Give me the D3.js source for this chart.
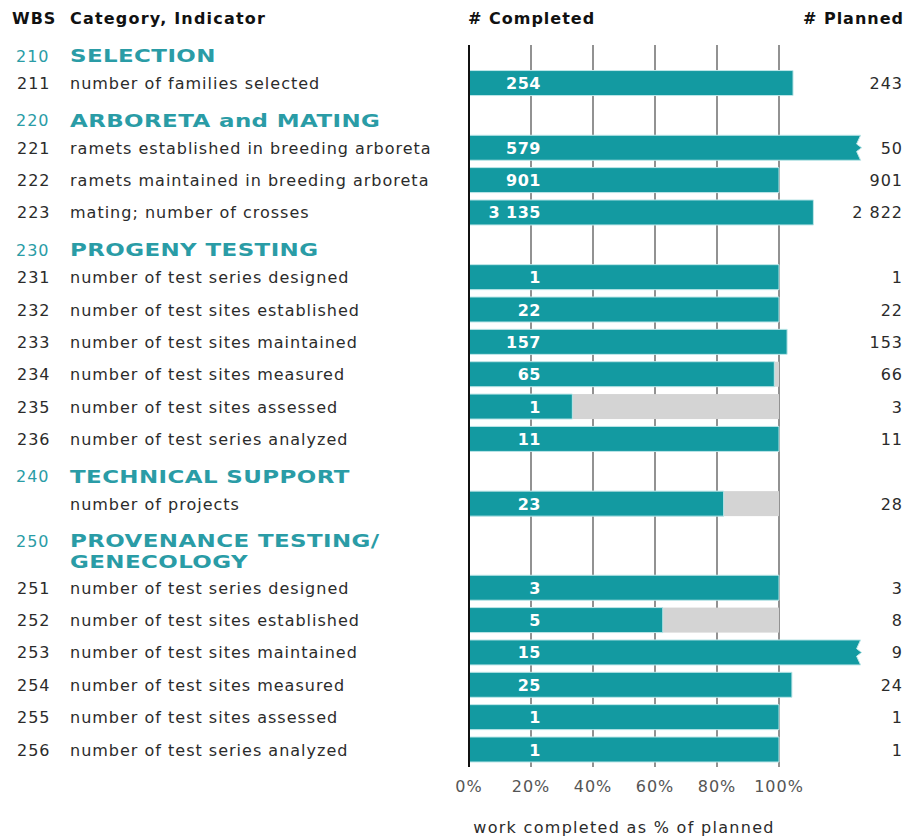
<!DOCTYPE html>
<html>
<head>
<meta charset="utf-8">
<title>Work completed as % of planned</title>
<script src="https://d3js.org/d3.v7.min.js"></script>
<style>
  body { margin: 0; background: #fff; }
  text { font-family: "DejaVu Sans", Verdana, sans-serif; }
</style>
</head>
<body>
<div id="chart"></div>
<script>
// rows of the table, top to bottom
const wbs = ["210", "211", "220", "221", "222", "223", "230", "231", "232", "233", "234", "235", "236",
             "240", "", "250", "251", "252", "253", "254", "255", "256"];
const labels = ["SELECTION", "number of families selected",
                "ARBORETA and MATING", "ramets established in breeding arboreta",
                "ramets maintained in breeding arboreta", "mating; number of crosses",
                "PROGENY TESTING", "number of test series designed", "number of test sites established",
                "number of test sites maintained", "number of test sites measured",
                "number of test sites assessed", "number of test series analyzed",
                "TECHNICAL SUPPORT", "number of projects",
                "PROVENANCE TESTING/|GENECOLOGY", "number of test series designed",
                "number of test sites established", "number of test sites maintained",
                "number of test sites measured", "number of test sites assessed",
                "number of test series analyzed"];
const completed = [null, 254, null, 579, 901, 3135, null, 1, 22, 157, 65, 1, 11,
                   null, 23, null, 3, 5, 15, 25, 1, 1];
const planned   = [null, 243, null, 50, 901, 2822, null, 1, 22, 153, 66, 3, 11,
                   null, 28, null, 3, 8, 9, 24, 1, 1];
const ticks = [0, 0.2, 0.4, 0.6, 0.8, 1.0];
const tickLabels = ["0%", "20%", "40%", "60%", "80%", "100%"];

const W = 907, H = 838;
const teal = "#139aa1", headTeal = "#2a9ca6", grey = "#d4d4d4", textCol = "#2b2b2b";
const cap = 1.26;   // bars above this share are cut with a jagged end

// slot index of each row (the two-line header takes more room)
const slot = [];
let s = 0;
labels.forEach(function(l, i) {
    slot.push(s);
    s += l.indexOf("|") >= 0 ? 1.6 : 1;
});

const y = d3.scaleLinear().domain([0, 21.6]).range([50.7, 749.5]);
const x = d3.scaleLinear().domain([0, 1]).range([469, 779]);
const barH = 25;

const svg = d3.select("#chart").append("svg")
    .attr("width", W).attr("height", H);

// column titles
const head = svg.append("g").attr("font-weight", "bold").attr("font-size", "16px")
    .attr("letter-spacing", "1.2px").attr("fill", "#111");
head.append("text").attr("x", 12).attr("y", 24).attr("letter-spacing", "1px").text("WBS");
head.append("text").attr("x", 70).attr("y", 24).text("Category, Indicator");
head.append("text").attr("x", x(0) - 1).attr("y", 24).attr("letter-spacing", "1px").text("# Completed");
head.append("text").attr("x", 904).attr("y", 24).attr("text-anchor", "end").attr("letter-spacing", "1px").text("# Planned");

// grid
const gridTop = 45, gridBottom = 767;
svg.append("g").selectAll("line")
    .data(ticks.slice(1))
    .join("line")
    .attr("x1", d => x(d)).attr("x2", d => x(d))
    .attr("y1", gridTop).attr("y2", gridBottom)
    .attr("stroke", "#6e6e6e").attr("stroke-width", 1.5);

const rows = d3.range(labels.length);
const items = rows.filter(i => completed[i] !== null);
const headers = rows.filter(i => completed[i] === null);

// grey background up to 100% for incomplete work
svg.append("g").selectAll("rect")
    .data(items.filter(i => completed[i] < planned[i]))
    .join("rect")
    .attr("x", x(0)).attr("y", i => y(slot[i]) - barH / 2)
    .attr("width", x(1) - x(0)).attr("height", barH)
    .attr("fill", grey);

// completed bars
function barPath(i) {
    const r = completed[i] / planned[i];
    const x0 = x(0), t = y(slot[i]) - barH / 2, b = t + barH;
    if (r <= cap) {
        const x1 = x(r);
        return `M${x0},${t}H${x1}V${b}H${x0}Z`;
    }
    const xe = x(cap) + 1;
    return `M${x0},${t}H${xe}L${xe - 4},${t + barH * 0.35}L${xe + 1},${t + barH * 0.5}` +
           `L${xe - 4},${t + barH * 0.65}L${xe},${b}H${x0}Z`;
}
svg.append("g").selectAll("path")
    .data(items)
    .join("path")
    .attr("d", barPath)
    .attr("fill", teal)
    .attr("stroke", "#bde6e8").attr("stroke-width", 1);

// axis line
svg.append("line")
    .attr("x1", x(0)).attr("x2", x(0))
    .attr("y1", gridTop).attr("y2", gridBottom)
    .attr("stroke", "#111").attr("stroke-width", 2);

// completed numbers inside bars
const fmt = v => d3.format(",")(v).replace(/,/g, " ");
svg.append("g").selectAll("text")
    .data(items)
    .join("text")
    .attr("x", 541).attr("y", i => y(slot[i]) + 6)
    .attr("text-anchor", "end")
    .attr("font-size", "16px").attr("font-weight", "bold")
    .attr("letter-spacing", "0.5px")
    .attr("fill", "#fff")
    .text(i => fmt(completed[i]));

// planned numbers
svg.append("g").selectAll("text")
    .data(items)
    .join("text")
    .attr("x", 903).attr("y", i => y(slot[i]) + 6)
    .attr("text-anchor", "end")
    .attr("font-size", "16px").attr("fill", textCol)
    .attr("letter-spacing", "1px")
    .text(i => fmt(planned[i]));

// WBS numbers and indicator names
svg.append("g").selectAll("text")
    .data(items)
    .join("text")
    .attr("x", 17).attr("y", i => y(slot[i]) + 6)
    .attr("font-size", "16px").attr("fill", textCol)
    .attr("letter-spacing", "1px")
    .text(i => wbs[i]);
svg.append("g").selectAll("text")
    .data(items)
    .join("text")
    .attr("x", 70).attr("y", i => y(slot[i]) + 6)
    .attr("font-size", "16px").attr("fill", textCol)
    .attr("letter-spacing", "1px")
    .text(i => labels[i]);

// category headers
svg.append("g").selectAll("text")
    .data(headers)
    .join("text")
    .attr("x", 16).attr("y", i => y(slot[i]) + 11)
    .attr("font-size", "16px").attr("fill", headTeal)
    .attr("letter-spacing", "1px")
    .text(i => wbs[i]);
const ht = svg.append("g").selectAll("text")
    .data(headers)
    .join("text")
    .attr("transform", i => `translate(70,${y(slot[i]) + 11.5}) scale(1.35,1)`)
    .attr("font-size", "17px").attr("font-weight", "900")
    .attr("letter-spacing", "0.3px")
    .attr("fill", headTeal);
ht.selectAll("tspan")
    .data(i => labels[i].split("|"))
    .join("tspan")
    .attr("x", 0).attr("dy", (d, k) => k === 0 ? 0 : 21)
    .text(d => d);

// x tick labels
svg.append("g").selectAll("text")
    .data(ticks)
    .join("text")
    .attr("x", d => x(d)).attr("y", 792)
    .attr("text-anchor", "middle")
    .attr("font-size", "16px").attr("fill", "#555")
    .attr("letter-spacing", "1px")
    .text((d, k) => tickLabels[k]);

svg.append("text")
    .attr("x", (x(0) + x(1)) / 2).attr("y", 833)
    .attr("text-anchor", "middle")
    .attr("font-size", "16px").attr("fill", textCol)
    .attr("letter-spacing", "1.3px")
    .text("work completed as % of planned");
</script>
</body>
</html>
